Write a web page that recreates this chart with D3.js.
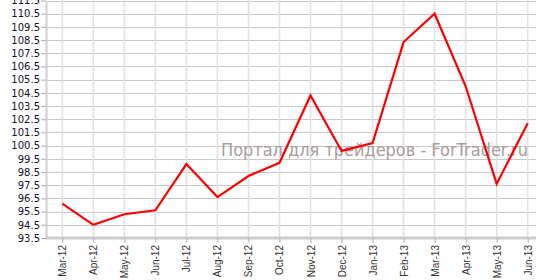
<!DOCTYPE html>
<html>
<head>
<meta charset="utf-8">
<script src="https://cdn.jsdelivr.net/npm/d3@7"></script>
<style>
body { margin: 0; background: #fff; }
svg { display: block; }
</style>
</head>
<body>
<svg width="536" height="280"></svg>
<script>
var months = ["Mar-12", "Apr-12", "May-12", "Jun-12", "Jul-12", "Aug-12", "Sep-12", "Oct-12",
	"Nov-12", "Dec-12", "Jan-13", "Feb-13", "Mar-13", "Apr-13", "May-13", "Jun-13"];
var values = [96.1, 94.5, 95.3, 95.6, 99.1, 96.6, 98.2, 99.2,
	104.3, 100.1, 100.7, 108.35, 110.5, 105.0, 97.6, 102.2];
var yTicks = [93.5, 94.5, 95.5, 96.5, 97.5, 98.5, 99.5, 100.5, 101.5, 102.5,
	103.5, 104.5, 105.5, 106.5, 107.5, 108.5, 109.5, 110.5, 111.5];
var watermark = "Портал для трейдеров - ForTrader.ru";

var svg = d3.select("svg");
var left = 46, bottom = 238;

var x = d3.scalePoint().domain(months).range([62.3, 527.7]);
var y = d3.scaleLinear().domain([93.5, 111.5]).range([bottom, 0.5]);

// horizontal grid
svg.append("g").selectAll("line")
	.data(yTicks)
	.enter().append("line")
		.attr("x1", left).attr("x2", 536)
		.attr("y1", function(d) { return Math.round(y(d)) + 0.5; })
		.attr("y2", function(d) { return Math.round(y(d)) + 0.5; })
		.attr("stroke", "#c8c8c8")
		.attr("stroke-width", 1);

// vertical grid
svg.append("g").selectAll("line")
	.data(months)
	.enter().append("line")
		.attr("x1", function(d) { return x(d); })
		.attr("x2", function(d) { return x(d); })
		.attr("y1", 0).attr("y2", bottom)
		.attr("stroke", "#e2e2e2")
		.attr("stroke-width", 1.6);

// y axis
var yAxis = svg.append("g")
	.attr("transform", "translate(" + left + ",0)")
	.call(d3.axisLeft(y).tickValues(yTicks).tickSize(5).tickSizeOuter(0)
		.tickFormat(d3.format(".1f")));
yAxis.select(".domain").attr("stroke", "#d0d0d0").attr("stroke-width", 2);
yAxis.selectAll(".tick line").attr("stroke", "#b0b0b0");
yAxis.selectAll(".tick text")
	.attr("x", -6)
	.attr("font-family", "DejaVu Sans")
	.attr("font-size", 10)
	.attr("fill", "#10102a");

// x axis
var xAxis = svg.append("g")
	.attr("transform", "translate(0," + bottom + ")")
	.call(d3.axisBottom(x).tickSize(5).tickSizeOuter(0));
xAxis.select(".domain").attr("d", "M" + left + ",0H536").attr("stroke", "#cccccc").attr("stroke-width", 3);
xAxis.selectAll(".tick line").attr("stroke", "#b0b0b0");
xAxis.selectAll(".tick text")
	.attr("transform", "rotate(-90)")
	.attr("text-anchor", "end")
	.attr("x", -7)
	.attr("y", 0)
	.attr("dy", "0.35em")
	.attr("font-family", "Liberation Sans, Arial")
	.attr("font-size", 10)
	.attr("fill", "#333");

// watermark
svg.append("text")
	.attr("x", 221)
	.attr("y", 156)
	.attr("font-family", "DejaVu Sans")
	.attr("font-size", 17)
	.attr("textLength", 307)
	.attr("lengthAdjust", "spacingAndGlyphs")
	.attr("fill", "#a89c9c")
	.text(watermark);

// line
var line = d3.line()
	.x(function(d, i) { return x(months[i]); })
	.y(function(d) { return y(d); });

svg.append("path")
	.datum(values)
	.attr("fill", "none")
	.attr("stroke", "#ff0000")
	.attr("stroke-width", 2.2)
	.attr("stroke-linejoin", "miter")
	.attr("d", line);
</script>
</body>
</html>
